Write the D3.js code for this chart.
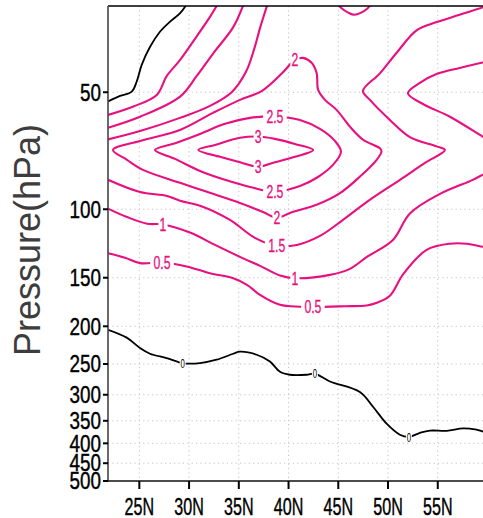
<!DOCTYPE html>
<html lang="en">
<head>
<meta charset="UTF-8">
<title>pressure - latitude contours</title>
<script src="https://d3js.org/d3.v7.min.js" charset="utf-8"></script>
<style>
    body { margin: 0; background: #fff; font-family: "Liberation Sans", Arial, sans-serif; }
    .grid line { stroke: #c4c4c4; stroke-width: 1; stroke-dasharray: 1.2, 3.2; }
</style>
</head>
<body>
<script>
    const w = 483, h = 518;

    // axis ticks
    const latTicks = [25, 30, 35, 40, 45, 50, 55];
    const presTicks = [50, 100, 150, 200, 250, 300, 350, 400, 450, 500];

    // contour lines: [latitude, hPa]
    const zeroTop = [[21.85,52.8],[23.06,51.1],[24.24,49.8],[24.74,46.9],[25.24,42.5],[26.08,38.2],[27.09,34.9],[28.09,32.9],[29.1,31.3],[29.8,29.6]];
    const halfTop = [[21.85,57.2],[24.4,54.4],[26.75,50.8],[27.76,45.4],[29.1,41.3],[30.77,35.9],[32.1,32.0],[32.9,29.6]];
    const oneTop = [[21.85,61.7],[25.07,57.8],[29.1,51.3],[30.77,45.4],[32.43,39.7],[34.44,34.0],[35.5,29.6]];
    const oneHalfTop = [[21.85,66.1],[25.07,62.9],[29.09,58.2],[32.1,54.2],[34.31,49.9],[35.72,44.3],[36.52,38.9],[37.13,34.2],[37.9,29.6]];
    const twoLoop = [[22.35,70.4],[25.07,66.7],[29.09,62.5],[32.4,56.5],[35.12,52.3],[37.33,49.6],[39.34,44.7],[40.64,41.3],[41.45,40.8],[42.32,42.0],[42.82,44.6],[42.98,49.3],[43.66,52.3],[44.83,55.5],[46.17,61.3],[47.51,66.3],[49.19,69.7],[49.34,71.1],[48.86,74.6],[47.18,82.4],[45.17,90.9],[42.82,97.4],[40.14,102.2],[38.84,105.3],[37.43,101.6],[35.12,96.3],[31.8,90.2],[29.09,85.5],[25.37,79.2],[23.76,74.6]];
    const twoHalfLoop = [[26.57,70.4],[28.68,67.5],[31.1,64.0],[33.61,60.3],[36.12,58.2],[38.63,57.7],[41.15,58.9],[43.16,62.1],[44.66,66.7],[45.27,71.1],[44.46,76.9],[42.96,82.6],[41.15,87.1],[38.63,90.1],[36.12,87.6],[33.61,84.0],[31.1,79.7],[28.58,74.2]];
    const threeLoop = [[30.93,70.4],[32.6,68.3],[35.12,65.5],[36.95,65.0],[38.63,65.9],[40.64,67.9],[42.48,70.4],[40.64,73.3],[38.63,75.7],[36.95,77.7],[35.12,75.7],[33.11,73.3]];
    const oneHalfLow = [[21.85,84.0],[25.07,90.3],[27.78,92.4],[29.09,95.1],[31.1,97.9],[34.11,106.5],[36.62,118.5],[38.81,124.2],[40.84,123.5],[43.16,117.1],[45.47,106.5],[47.88,95.7],[51.2,84.0],[53.71,76.0],[55.72,70.4],[54.9,68.9],[52.2,65.2],[50.19,58.9],[48.18,52.3],[47.48,49.6],[49.19,44.7],[50.89,39.5],[52.9,34.6],[54.9,33.0],[57.2,31.6],[59.54,30.2],[60.3,29.6]];
    const oneRight = [[60.3,41.6],[59.54,41.9],[57.2,43.3],[54.88,44.9],[53.2,47.3],[52.0,50.3],[53.51,53.6],[56.22,57.8],[59.54,65.1],[60.3,66.9]];
    const oneLow = [[21.85,99.6],[23.76,104.7],[25.77,108.9],[27.38,109.4],[30.09,114.8],[32.6,123.5],[35.12,132.6],[37.13,139.8],[39.14,148.0],[40.64,150.4],[44.16,147.5],[46.17,142.3],[47.88,132.6],[50.49,119.9],[52.2,102.5],[55.22,91.3],[58.53,84.0],[59.54,81.5],[60.3,80.6]];
    const halfLow = [[21.85,129.7],[23.56,133.3],[25.07,137.6],[27.28,137.1],[29.76,140.3],[32.1,146.1],[34.44,150.4],[35.82,156.4],[37.13,166.0],[39.14,176.1],[41.15,178.1],[42.45,178.4],[45.67,177.6],[47.85,176.8],[48.88,174.0],[50.19,166.9],[51.53,146.8],[53.88,127.2],[56.22,122.6],[57.9,122.6],[59.54,124.9],[60.3,125.8]];
    const twoTopU = [[44.93,29.6],[45.33,30.4],[46.0,31.2],[46.6,31.6],[47.3,31.2],[47.9,30.5],[48.3,29.6]];
    const zeroLow = [[21.85,204.2],[23.73,213.9],[25.07,227.5],[26.07,235.3],[27.75,241.4],[29.36,248.6],[31.1,248.6],[32.77,243.8],[34.44,235.3],[35.12,232.5],[36.8,236.7],[38.13,246.4],[39.14,261.9],[40.14,266.5],[41.82,266.5],[42.65,264.9],[44.16,277.3],[47.17,295.2],[48.51,322.5],[49.86,356.1],[51.19,380.1],[52.1,385],[53.21,376],[54.22,371],[55.9,371.5],[57.56,366],[58.9,369],[59.54,373],[60.3,376]];

    // contour labels: [latitude, hPa, text]
    const pinkLabels = [[40.64,41.3,"2"],[38.63,57.7,"2.5"],[36.95,65.0,"3"],[36.95,77.7,"3"],[38.63,90.1,"2.5"],[38.84,105.3,"2"],[38.81,124.2,"1.5"],[27.38,109.4,"1"],[40.64,150.4,"1"],[27.28,137.1,"0.5"],[42.45,178.4,"0.5"]];
    const zeroLabels = [[29.36,248.6],[42.65,264.9],[52.1,385]];

    const pink = "#e8107f";

    const x = d3.scaleLinear().domain([21.85, 60]).range([108, 487.5]);
    const y = d3.scaleLog().domain([30, 500]).range([6, 481]);

    const svg = d3.select("body").append("svg").attr("width", w).attr("height", h);

    svg.append("defs").append("clipPath").attr("id", "plot")
        .append("rect").attr("x", 108).attr("y", 6).attr("width", 380).attr("height", 475);

    // dotted grid
    const grid = svg.append("g").attr("class", "grid");
    grid.selectAll(".gx").data(latTicks).enter().append("line")
        .attr("x1", d => x(d)).attr("x2", d => x(d)).attr("y1", 6).attr("y2", 481);
    grid.selectAll(".gy").data(presTicks.slice(0, -1)).enter().append("line")
        .attr("x1", 108).attr("x2", 487).attr("y1", d => y(d)).attr("y2", d => y(d));

    const curve = d3.line().x(d => x(d[0])).y(d => y(d[1])).curve(d3.curveCatmullRom.alpha(0.5));
    const loop = d3.line().x(d => x(d[0])).y(d => y(d[1])).curve(d3.curveCatmullRomClosed.alpha(0.5));

    const lines = [
        [zeroTop, "#000", false], [zeroLow, "#000", false],
        [halfTop, pink, false], [oneTop, pink, false], [oneHalfTop, pink, false],
        [twoLoop, pink, true], [twoHalfLoop, pink, true], [threeLoop, pink, true],
        [oneHalfLow, pink, false], [oneRight, pink, false], [oneLow, pink, false],
        [halfLow, pink, false], [twoTopU, pink, false]
    ];

    const plot = svg.append("g").attr("clip-path", "url(#plot)");
    plot.selectAll("path").data(lines).enter().append("path")
        .attr("d", d => d[2] ? loop(d[0]) : curve(d[0]))
        .attr("fill", "none")
        .attr("stroke", d => d[1])
        .attr("stroke-width", d => d[1] === "#000" ? 1.8 : 2.1)
        .attr("stroke-linejoin", "round");

    // contour labels
    const pl = plot.selectAll(".pl").data(pinkLabels).enter().append("g")
        .attr("transform", d => `translate(${x(d[0])},${y(d[1])})`);
    pl.append("rect")
        .attr("x", d => -d[2].length * 3.6 - 1).attr("y", -7)
        .attr("width", d => d[2].length * 7.2 + 2).attr("height", 14)
        .attr("fill", "#fff");
    pl.append("text")
        .attr("transform", "scale(0.68,1)")
        .attr("text-anchor", "middle").attr("dy", "0.36em")
        .attr("font-size", 18).attr("fill", pink)
        .attr("stroke", pink).attr("stroke-width", 0.3)
        .text(d => d[2]);

    const zl = plot.selectAll(".zl").data(zeroLabels).enter().append("g")
        .attr("transform", d => `translate(${x(d[0])},${y(d[1])})`);
    zl.append("rect").attr("x", -3).attr("y", -5).attr("width", 6).attr("height", 10).attr("fill", "#fff");
    zl.append("text")
        .attr("transform", "scale(0.6,1)")
        .attr("text-anchor", "middle").attr("dy", "0.36em")
        .attr("font-size", 13).attr("fill", "#000")
        .text("0");

    // frame
    svg.append("line").attr("x1", 108).attr("x2", 488).attr("y1", 6).attr("y2", 6)
        .attr("stroke", "#000").attr("stroke-width", 1.5);
    svg.append("line").attr("x1", 108).attr("x2", 108).attr("y1", 6).attr("y2", 481)
        .attr("stroke", "#444").attr("stroke-width", 1.6);
    svg.append("line").attr("x1", 108).attr("x2", 488).attr("y1", 481).attr("y2", 481)
        .attr("stroke", "#111").attr("stroke-width", 1.6);

    // y ticks
    const yt = svg.selectAll(".yt").data(presTicks).enter().append("g")
        .attr("transform", d => `translate(108,${y(d)})`);
    yt.append("line").attr("x1", -5).attr("x2", 0).attr("stroke", "#000").attr("stroke-width", 2);
    yt.append("text")
        .attr("transform", "translate(-7,0) scale(0.82,1)")
        .attr("text-anchor", "end").attr("dy", "0.36em")
        .attr("font-size", 23).attr("fill", "#000")
        .attr("stroke", "#000").attr("stroke-width", 0.4)
        .text(d => d);

    // x ticks
    const xt = svg.selectAll(".xt").data(latTicks).enter().append("g")
        .attr("transform", d => `translate(${x(d)},481)`);
    xt.append("line").attr("y1", 0).attr("y2", 8).attr("stroke", "#000").attr("stroke-width", 2);
    xt.append("text")
        .attr("transform", "translate(0,33.5) scale(0.7,1)")
        .attr("text-anchor", "middle")
        .attr("font-size", 23).attr("fill", "#000")
        .attr("stroke", "#000").attr("stroke-width", 0.4)
        .text(d => d + "N");

    svg.append("text")
        .attr("transform", "translate(39.5,240) rotate(-90)")
        .attr("text-anchor", "middle")
        .attr("font-size", 36).attr("fill", "#3d3d3d")
        .text("Pressure(hPa)");
</script>
</body>
</html>
